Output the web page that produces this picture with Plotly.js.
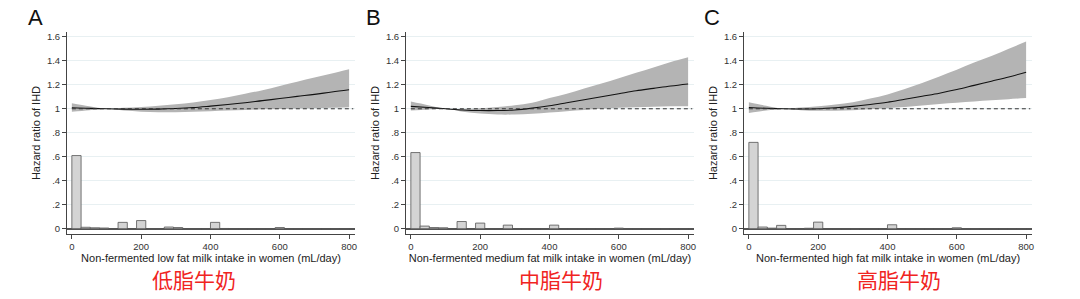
<!DOCTYPE html>
<html>
<head>
<meta charset="utf-8">
<script src="https://cdn.plot.ly/plotly-3.0.1.min.js"></script>
<style>html,body{margin:0;padding:0;background:#fff;}#chart{width:1080px;height:299px;}</style>
</head>
<body>
<div id="chart"></div>
<script>
// Dose-response grid (mL/day)
const doseGrid = [0,50,100,150,200,250,300,350,400,450,500,550,600,650,700,750,800];

// Panel A: low fat milk
const hrLow    = [1.008,1.003,1.0,0.997,0.996,0.997,1.002,1.010,1.022,1.035,1.050,1.068,1.085,1.103,1.120,1.140,1.158];
const upperLow = [1.045,1.020,1.0,1.008,1.015,1.025,1.037,1.053,1.073,1.097,1.125,1.155,1.190,1.225,1.260,1.295,1.330];
const lowerLow = [0.975,0.988,1.0,0.985,0.976,0.972,0.972,0.975,0.980,0.985,0.990,0.995,0.998,1.002,1.005,1.008,1.012];

// Panel B: medium fat milk
const hrMed    = [1.020,1.010,1.0,0.990,0.985,0.985,0.990,1.005,1.025,1.050,1.075,1.100,1.125,1.150,1.170,1.190,1.207];
const upperMed = [1.060,1.030,1.0,1.000,1.005,1.015,1.030,1.050,1.090,1.125,1.170,1.210,1.255,1.300,1.345,1.390,1.430];
const lowerMed = [0.985,0.993,1.0,0.975,0.960,0.952,0.952,0.958,0.968,0.980,0.990,1.000,1.008,1.013,1.017,1.020,1.022];

// Panel C: high fat milk
const hrHigh    = [1.010,1.004,1.0,0.998,1.000,1.008,1.020,1.036,1.055,1.080,1.105,1.130,1.160,1.195,1.230,1.265,1.305];
const upperHigh = [1.055,1.025,1.0,1.010,1.020,1.035,1.055,1.085,1.120,1.165,1.215,1.270,1.325,1.385,1.440,1.500,1.560];
const lowerHigh = [0.965,0.985,1.0,0.988,0.983,0.984,0.988,0.995,1.005,1.015,1.027,1.040,1.050,1.060,1.070,1.080,1.090];

// Histogram: 30 bins over 0-800 mL/day (fractions)
const histLow  = [0.61,0.012,0.008,0.006,0,0.053,0,0.068,0,0,0.014,0.010,0,0,0,0.053,0.002,0,0,0,0,0,0.010,0,0,0,0,0,0,0];
const histMed  = [0.635,0.022,0.010,0.008,0,0.060,0,0.047,0,0,0.030,0,0,0,0,0.030,0,0,0,0,0,0,0.005,0,0,0,0,0,0,0];
const histHigh = [0.72,0.014,0.005,0.028,0,0,0.004,0.055,0,0,0,0,0,0,0,0.033,0,0,0,0,0,0,0.008,0,0,0,0,0,0,0];
const binMax = 800;

const yTickVals = [0,0.2,0.4,0.6,0.8,1,1.2,1.4,1.6];
const yTickText = ['0','.2','.4','.6','.8','1','1.2','1.4','1.6'];
const xTickVals = [0,200,400,600,800];

const xTitles = [
  'Non-fermented low fat milk intake in women (mL/day)',
  'Non-fermented medium fat milk intake in women (mL/day)',
  'Non-fermented high fat milk intake in women (mL/day)'
];
const panelLetters = ['A','B','C'];
const cnLabels = ['低脂牛奶','中脂牛奶','高脂牛奶'];

const panels = [
  {hr: hrLow, up: upperLow, lo: lowerLow, hist: histLow},
  {hr: hrMed, up: upperMed, lo: lowerMed, hist: histMed},
  {hr: hrHigh, up: upperHigh, lo: lowerHigh, hist: histHigh}
];

const W = 1080, H = 299;
const xDomPx = [[67,355],[406,694],[744,1032]];
const yDomPx = [32,234];
const cnCenterPx = [194,561,899];

const traces = [];
const layout = {
  width: W, height: H,
  margin: {l:0,r:0,t:0,b:0},
  paper_bgcolor: '#ffffff', plot_bgcolor: '#ffffff',
  showlegend: false,
  font: {family: '"Liberation Sans", Arial, Helvetica, sans-serif', color: '#222'},
  annotations: [],
  shapes: []
};

const nb = panels[0].hist.length;
const bw = binMax / nb;
const binCenters = panels[0].hist.map((_, i) => (i + 0.5) * bw);

panels.forEach((p, k) => {
  const sfx = k === 0 ? '' : String(k + 1);
  const xa = 'x' + sfx, ya = 'y' + sfx;
  // histogram bars
  traces.push({
    type: 'bar', x: binCenters, y: p.hist, width: bw, xaxis: xa, yaxis: ya,
    marker: {color: '#d4d4d4', line: {color: '#555555', width: 0.8}},
    hoverinfo: 'skip'
  });
  // CI band: upper edge, then lower edge filled to it
  traces.push({
    type: 'scatter', mode: 'lines', xaxis: xa, yaxis: ya,
    x: doseGrid, y: p.up, line: {width: 0, shape: 'spline', color: 'rgba(0,0,0,0)'},
    hoverinfo: 'skip'
  });
  traces.push({
    type: 'scatter', mode: 'lines', xaxis: xa, yaxis: ya,
    x: doseGrid, y: p.lo, fill: 'tonexty', fillcolor: '#b4b4b4',
    line: {width: 0, shape: 'spline', color: 'rgba(0,0,0,0)'},
    hoverinfo: 'skip'
  });
  // HR curve
  traces.push({
    type: 'scatter', mode: 'lines', xaxis: xa, yaxis: ya,
    x: doseGrid, y: p.hr, line: {color: '#111111', width: 1.1, shape: 'spline'},
    hoverinfo: 'skip'
  });

  const xd = [xDomPx[k][0] / W, xDomPx[k][1] / W];
  const yd = [1 - yDomPx[1] / H, 1 - yDomPx[0] / H];
  layout['xaxis' + sfx] = {
    domain: xd, anchor: ya, range: [-14, 817],
    tickvals: xTickVals, ticks: 'outside', ticklen: 4, tickcolor: '#444', tickwidth: 1,
    tickfont: {size: 9.5, color: '#333'},
    showline: true, linecolor: '#444', linewidth: 1, showgrid: false, zeroline: false,
    title: {text: xTitles[k], font: {size: 11, color: '#222'}, standoff: 0}
  };
  layout['yaxis' + sfx] = {
    domain: yd, anchor: xa, range: [-0.044, 1.64],
    tickvals: yTickVals, ticktext: yTickText, ticks: 'outside', ticklen: 4, tickcolor: '#444', tickwidth: 1,
    tickfont: {size: 9.5, color: '#333'},
    showline: true, linecolor: '#444', linewidth: 1,
    showgrid: true, gridcolor: '#e8f0f2', gridwidth: 1,
    zeroline: true, zerolinecolor: '#555', zerolinewidth: 1.6,
    title: {text: 'Hazard ratio of IHD', font: {size: 11, color: '#222'}, standoff: 4}
  };
  // reference line at HR = 1
  layout.shapes.push({
    type: 'line', xref: xa, yref: ya, x0: 0, x1: 812, y0: 1, y1: 1,
    line: {color: '#333', width: 1, dash: '4px,3px'}
  });
  // panel letter
  layout.annotations.push({
    text: panelLetters[k], xref: 'paper', yref: 'paper',
    x: (xDomPx[k][0] - 32) / W, y: 1 - 18 / H, xanchor: 'center', yanchor: 'middle',
    showarrow: false, font: {size: 22, color: '#111', family: '"Liberation Sans", Arial, sans-serif'}
  });
  // Chinese label
  layout.annotations.push({
    text: cnLabels[k], xref: 'paper', yref: 'paper',
    x: cnCenterPx[k] / W, y: 1 - 279 / H, xanchor: 'center', yanchor: 'middle',
    showarrow: false, font: {size: 21, color: '#f0241f', family: '"Noto Sans CJK SC", sans-serif'}
  });
});

Plotly.newPlot('chart', traces, layout, {staticPlot: true, displayModeBar: false});
</script>
</body>
</html>
